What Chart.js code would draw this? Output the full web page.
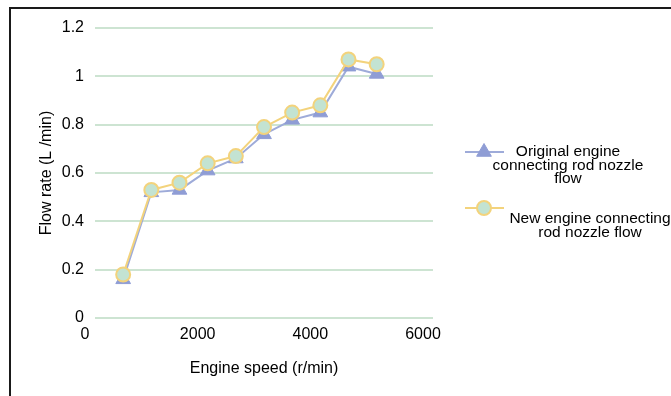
<!DOCTYPE html>
<html>
<head>
<meta charset="utf-8">
<script src="https://cdn.jsdelivr.net/npm/chart.js@4.4.1/dist/chart.umd.min.js"></script>
<style>
    html, body { margin: 0; padding: 0; background: #fff; }
    #wrap { position: relative; width: 671px; height: 396px; overflow: hidden; }
    #frame { position: absolute; left: 9px; top: 7px; right: -10px; bottom: -10px;
             border-top: 2px solid #1a1a1a; border-left: 2px solid #1a1a1a; }
    canvas { position: absolute; left: 0; top: 0; }
</style>
</head>
<body>
<div id="wrap">
    <div id="frame"></div>
    <canvas id="chart" width="671" height="396"></canvas>
</div>
<script>
// Engine speed vs connecting rod nozzle flow
// ==========================================

var speeds = [500, 1000, 1500, 2000, 2500, 3000, 3500, 4000, 4500, 5000];
var originalFlow = [0.16, 0.52, 0.53, 0.61, 0.66, 0.76, 0.82, 0.85, 1.04, 1.01];
var newFlow = [0.18, 0.53, 0.56, 0.64, 0.67, 0.79, 0.85, 0.88, 1.07, 1.05];
var xTicks = [0, 2000, 4000, 6000];
var yTicks = [0, 0.2, 0.4, 0.6, 0.8, 1, 1.2];
var seriesNames = [
    ['Original engine', 'connecting rod nozzle', 'flow'],
    ['New engine connecting', 'rod nozzle flow']
];

var FONT = '"Liberation Sans", Arial, sans-serif';
var BLUE = '#9eabd9';
var BLUE_FILL = '#8f9dd5';
var YELLOW = '#f3d37c';
var MINT = '#c3e3d2';
var GRID = '#cde4d2';

function toPoints(values) {
    return speeds.map(function (s, i) { return { x: s, y: values[i] }; });
}

// legend drawn by hand so the wrapped labels stay centred like the original
var sideLegend = {
    id: 'sideLegend',
    afterDraw: function (chart) {
        var ctx = chart.ctx;
        var items = [
            { ds: chart.data.datasets[1], text: seriesNames[0], y: 152, cx: 568 },
            { ds: chart.data.datasets[0], text: seriesNames[1], y: 208, cx: 590 }
        ];
        ctx.save();
        items.forEach(function (it) {
            ctx.strokeStyle = it.ds.borderColor;
            ctx.lineWidth = 2;
            ctx.beginPath();
            ctx.moveTo(465, it.y);
            ctx.lineTo(504, it.y);
            ctx.stroke();

            ctx.fillStyle = it.ds.pointBackgroundColor;
            ctx.strokeStyle = it.ds.pointBorderColor;
            ctx.lineWidth = it.ds.pointBorderWidth;
            Chart.helpers.drawPoint(ctx, {
                pointStyle: it.ds.pointStyle,
                radius: it.ds.pointRadius,
                borderWidth: it.ds.pointBorderWidth,
                rotation: 0
            }, 484, it.y);

            ctx.fillStyle = '#000';
            ctx.font = '15.5px ' + FONT;
            ctx.textAlign = 'center';
            ctx.textBaseline = 'middle';
            var first = it.text.length === 3 ? it.y : it.y + 11;
            it.text.forEach(function (line, i) {
                ctx.fillText(line, it.cx, first + i * 13.5);
            });
        });
        ctx.restore();
    }
};

new Chart(document.getElementById('chart'), {
    type: 'line',
    data: {
        datasets: [{
            label: seriesNames[1].join(' '),
            data: toPoints(newFlow),
            borderColor: YELLOW,
            borderWidth: 2,
            pointStyle: 'circle',
            pointRadius: 7,
            pointBorderWidth: 2,
            pointBackgroundColor: MINT,
            pointBorderColor: YELLOW,
            order: 0
        }, {
            label: seriesNames[0].join(' '),
            data: toPoints(originalFlow),
            borderColor: BLUE,
            borderWidth: 2,
            pointStyle: 'triangle',
            pointRadius: 8.5,
            pointBorderWidth: 1,
            pointBackgroundColor: BLUE_FILL,
            pointBorderColor: BLUE_FILL,
            order: 1
        }]
    },
    options: {
        responsive: false,
        animation: false,
        layout: { padding: { left: 9, top: 28, right: 238, bottom: 0 } },
        plugins: { legend: { display: false }, tooltip: { enabled: false } },
        scales: {
            x: {
                type: 'linear',
                min: 0,
                max: 6000,
                afterBuildTicks: function (axis) {
                    axis.ticks = xTicks.map(function (v) { return { value: v }; });
                },
                afterFit: function (axis) { axis.height = 78; },
                grid: { display: false, drawTicks: false },
                border: { display: false },
                ticks: {
                    color: '#000',
                    font: { family: FONT, size: 16 },
                    padding: 7,
                    labelOffset: -10,
                    maxRotation: 0,
                    callback: function (v) { return String(v); }
                },
                title: {
                    display: true,
                    text: 'Engine speed (r/min)',
                    color: '#000',
                    font: { family: FONT, size: 16 },
                    padding: { top: 0, bottom: 18 }
                }
            },
            y: {
                min: 0,
                max: 1.2,
                afterBuildTicks: function (axis) {
                    axis.ticks = yTicks.map(function (v) { return { value: v }; });
                },
                afterFit: function (axis) { axis.width = 86; },
                grid: { color: GRID, lineWidth: 2, drawTicks: false },
                border: { display: false },
                ticks: {
                    color: '#000',
                    font: { family: FONT, size: 16 },
                    padding: 11,
                    callback: function (v) { return String(v); }
                },
                title: {
                    display: true,
                    text: 'Flow rate (L /min)',
                    color: '#000',
                    font: { family: FONT, size: 16 },
                    padding: { top: 28, bottom: 0 }
                }
            }
        }
    },
    plugins: [sideLegend]
});
</script>
</body>
</html>
